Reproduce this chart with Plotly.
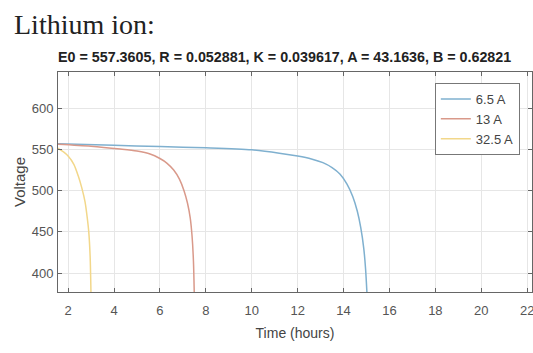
import plotly.graph_objects as go

# Data
t_65 = [1.5, 4.0, 6.0, 8.0, 10.0, 11.2, 12.0, 12.6, 13.1, 13.5, 13.85, 14.15, 14.4, 14.6, 14.75, 14.88, 14.96, 15.03]
v_65 = [557, 555, 553.5, 552, 549.5, 545.5, 542, 538.5, 534, 528, 520, 508, 493, 475, 455, 430, 405, 370]

t_13 = [1.5, 3.0, 4.27, 5.0, 5.57, 6.0, 6.3, 6.6, 6.85, 7.05, 7.2, 7.32, 7.4, 7.46, 7.5]
v_13 = [556.5, 554, 550.5, 548, 544.5, 539, 533.5, 525, 514, 500, 485, 467, 445, 415, 370]

t_325 = [1.52, 1.8, 2.0, 2.25, 2.44, 2.6, 2.74, 2.83, 2.9, 2.96, 3.0]
v_325 = [552, 547, 542, 532, 518, 503, 486, 468, 450, 420, 370]

series_names = ["6.5 A", "13 A", "32.5 A"]
colors = ["#7fb0cf", "#d9998a", "#f2d78a"]

x_ticks = [2, 4, 6, 8, 10, 12, 14, 16, 18, 20, 22]
y_ticks = [400, 450, 500, 550, 600]

fig = go.Figure()
for (t, v), name, c in zip([(t_65, v_65), (t_13, v_13), (t_325, v_325)], series_names, colors):
    fig.add_trace(go.Scatter(x=t, y=v, mode="lines", name=name,
                             line=dict(color=c, width=1.5, shape="spline", smoothing=0.8)))

axis_common = dict(showline=True, linecolor="#666666", linewidth=1, mirror="ticks",
                   ticks="inside", ticklen=4, tickcolor="#666666", automargin=False,
                   showgrid=True, gridcolor="#e6e6e6", zeroline=False,
                   ticklabeloverflow="allow",
                   tickfont=dict(family="Arial, Liberation Sans", size=13, color="#555555"))

fig.update_layout(
    width=533, height=353,
    margin=dict(l=58, r=1, t=72, b=61),
    paper_bgcolor="white", plot_bgcolor="white",
    showlegend=True,
    legend=dict(x=0.795, y=0.95, xanchor="left", yanchor="top",
                bordercolor="#777777", borderwidth=1, bgcolor="white",
                font=dict(family="Arial, Liberation Sans", size=13, color="#444444")),
    xaxis=dict(range=[1.56, 22.21], tickvals=x_ticks, ticklabelstandoff=6, **axis_common,
               title=dict(text="Time (hours)", font=dict(family="Arial, Liberation Sans", size=14, color="#444444"), standoff=11)),
    yaxis=dict(range=[377, 644], tickvals=y_ticks, ticklabelstandoff=1, **axis_common,
               title=dict(text="Voltage", font=dict(family="Arial, Liberation Sans", size=15, color="#444444"), standoff=2)),
)

fig.add_annotation(text="Lithium ion:", xref="paper", yref="paper", x=-0.097, y=1.218,
                   xanchor="left", yanchor="middle", showarrow=False,
                   font=dict(family="Liberation Serif, Times New Roman", size=28, color="#222222"))
fig.add_annotation(text="<b>E0 = 557.3605, R = 0.052881, K = 0.039617, A = 43.1636, B = 0.62821</b>",
                   xref="paper", yref="paper", x=0.478, y=1.068,
                   xanchor="center", yanchor="middle", showarrow=False,
                   font=dict(family="Arial, Liberation Sans", size=14.3, color="#222222"))

fig.write_html("out.html", config={"displayModeBar": False},
               post_script="document.body.style.margin='0';document.body.style.overflow='hidden';")
